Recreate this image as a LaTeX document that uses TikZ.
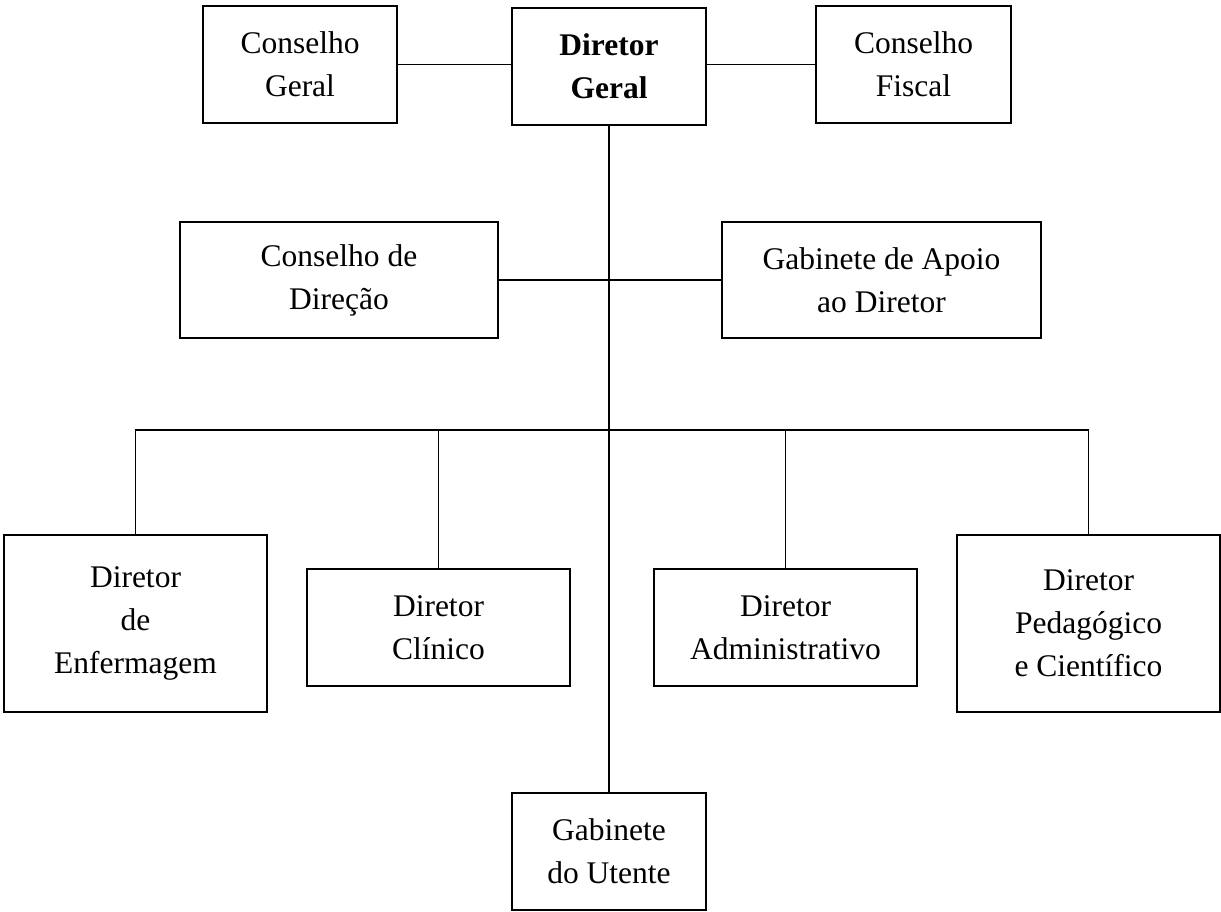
\documentclass[tikz,border=0pt]{standalone}
\usepackage{fontspec}
\setmainfont{Liberation Serif}
\begin{document}
\begin{tikzpicture}[x=1pt,y=-1pt,
  unit/.style={draw, line width=1.7pt, align=center, inner sep=0pt,
    font=\fontsize{31.5}{43}\selectfont},
  link/.style={line width=1.5pt}]
\useasboundingbox (0,0) rectangle (1221,911);

% top level
\node[unit, minimum width=194pt, minimum height=117pt] (cg) at (300,64.5) {Conselho\\Geral};
\node[unit, minimum width=194pt, minimum height=117pt] (dg) at (609,66.5) {\textbf{Diretor}\\\textbf{Geral}};
\node[unit, minimum width=195pt, minimum height=117pt] (cf) at (913.5,64.5) {Conselho\\Fiscal};

% staff level
\node[unit, minimum width=318pt, minimum height=116pt] (cd) at (339,280) {Conselho de\\Direção};
\node[unit, minimum width=319pt, minimum height=116pt] (ga) at (881.5,280) {Gabinete de Apoio\\ao Diretor};

% directors
\node[unit, minimum width=263pt, minimum height=177pt] (de) at (135.5,623.5) {Diretor\\de\\Enfermagem};
\node[unit, minimum width=263pt, minimum height=117pt] (dc) at (438.5,627.5) {Diretor\\Clínico};
\node[unit, minimum width=263pt, minimum height=117pt] (da) at (785.5,627.5) {Diretor\\Administrativo};
\node[unit, minimum width=263pt, minimum height=177pt] (dp) at (1088.5,623.5) {Diretor\\Pedagógico\\e Científico};

% bottom
\node[unit, minimum width=194pt, minimum height=117pt] (gu) at (609,851.5) {Gabinete\\do Utente};

\coordinate (bus) at (609,430);

% connectors
\draw[link] (cg.east) -- (cg.east -| dg.west);
\draw[link] (cf.west) -- (cf.west -| dg.east);
\draw[link] (dg.south) -- (gu.north);
\draw[link] (cd.east) -- (ga.west);
\draw[link] (de.north) -- (de.north |- bus) -- (dp.north |- bus) -- (dp.north);
\draw[link] (dc.north) -- (dc.north |- bus);
\draw[link] (da.north) -- (da.north |- bus);
\end{tikzpicture}
\end{document}
